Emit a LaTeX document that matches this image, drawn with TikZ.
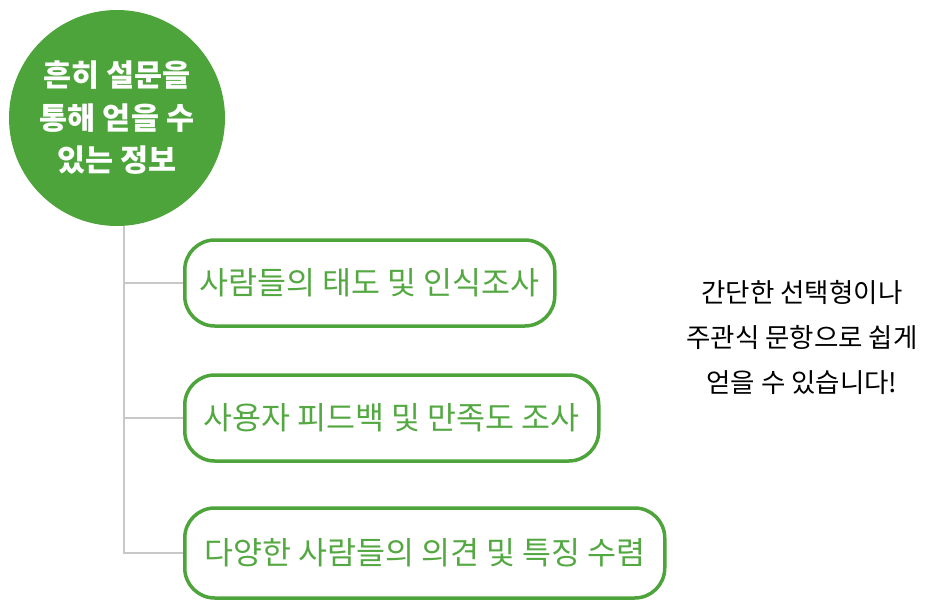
\documentclass[tikz,border=0pt]{standalone}
\usepackage{fontspec}
\setmainfont{Noto Sans CJK KR}
\usetikzlibrary{positioning}

\definecolor{leafgreen}{RGB}{76,164,58}
\definecolor{textgreen}{RGB}{84,168,66}
\definecolor{stemgray}{RGB}{200,200,200}

\tikzset{
  hub/.style={circle,fill=leafgreen,minimum size=216pt,inner sep=0pt,
    text=white,align=center,font=\fontsize{30.5}{42.5}\selectfont\bfseries},
  item/.style={draw=leafgreen,line width=3.5pt,rounded corners=30pt,
    minimum height=86pt,anchor=west,text=textgreen,
    font=\fontsize{31.5}{33}\selectfont},
  stem/.style={draw=stemgray,line width=1.6pt},
  note/.style={align=center,font=\fontsize{26.5}{45}\selectfont}
}

\begin{document}
\begin{tikzpicture}[x=1pt,y=-1pt]
  % --- Canvas ---
  \useasboundingbox (0,0) rectangle (946,613);

  % --- Parameters ---
  \def\boxx{183}   % left edge of the three boxes
  \def\trunkx{124} % x of the gray stem

  % --- Main circle ---
  \node[hub] (info) at (117,118) {흔히 설문을\\통해 얻을 수\\있는 정보};

  % --- Items ---
  \node[item,minimum width=370pt] (attitude) at (\boxx,283) {사람들의 태도 및 인식조사};
  \node[item,minimum width=414pt] (feedback) at (\boxx,418) {사용자 피드백 및 만족도 조사};
  \node[item,minimum width=480pt,minimum height=90pt] (opinion) at (\boxx,553) {다양한 사람들의 의견 및 특징 수렴};

  % --- Stem and branches ---
  \coordinate (trunk) at (\trunkx,226);
  \draw[stem] (trunk) |- (opinion.west);
  \draw[stem] (trunk |- attitude.west) -- (attitude.west);
  \draw[stem] (trunk |- feedback.west) -- (feedback.west);

  % --- Side note ---
  \node[note] (hint) at (802,337) {간단한 선택형이나\\주관식 문항으로 쉽게\\얻을 수 있습니다!};
\end{tikzpicture}
\end{document}
